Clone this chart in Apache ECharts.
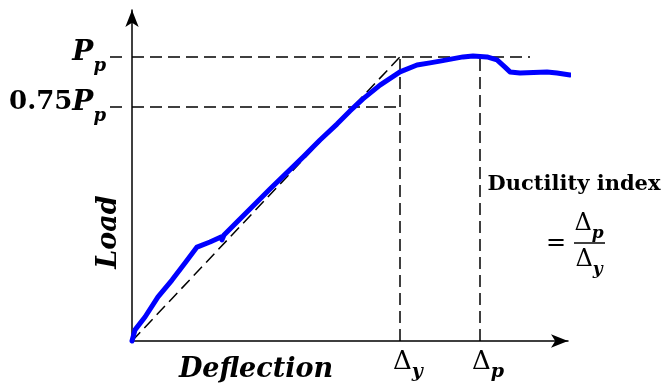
<!DOCTYPE html>
<html><head><meta charset="utf-8">
<script src="https://cdn.jsdelivr.net/npm/echarts@6/dist/echarts.min.js"></script>
<style>html,body{margin:0;padding:0;background:#fff}#c{width:665px;height:391px}</style>
</head><body><div id="c"></div>
<script>
// Load-deflection curve (arbitrary units)
const deflection = [0,0.75,3.25,6.5,10,13.25,16.25,19.5,22.25,22.5,23,25.75,30.25,34.5,42.75,47,51.25,54.5,57.75,62,67,71.25,74.5,77,82.75,85.25,88.75,91.25,93.25,94.5,97,103.75,106.25,109.5];
const load = [0,3.7,8,14.7,20.3,26,31.3,33,34.7,33.7,35.3,39,45,50.7,61.3,67,72.3,76.7,80.7,85.3,89.7,92,92.7,93.3,94.7,95,94.7,93.7,91.3,89.7,89.3,89.7,89.3,88.7];
// key points
const deltaY = 67, deltaP = 87;
const peakLoad = 94.7, yieldLoad = 78;
const peakGuideEnd = 99.5;
const xMax = 109, yMax = 110.33;
// tick labels
const yTickLabels = ['{n|0.75}{P|P}{s|p}', '{P|P}{s|p}'];
const xTickLabels = ['{d|Δ}{s|y}', '{d|Δ}{s|p}'];

const serif = '"DejaVu Serif", "Liberation Serif", serif';
const dash = {color:'#000', width:1.5, type:[12,6]};
function guide(points){
  return {type:'line', data:points, symbol:'none', silent:true, clip:false, lineStyle:dash, z:1, animation:false};
}
const chart = echarts.init(document.getElementById('c'), null, {renderer:'canvas'});
const axisLineStyle = {show:true, symbol:['none','arrow'], symbolSize:[10,17], lineStyle:{color:'#000', width:1.5}};
const fracRich = {
  d:{fontFamily:serif, fontSize:24, fill:'#000', lineHeight:24, verticalAlign:'top'},
  s:{fontFamily:serif, fontSize:17, fontWeight:'bold', fontStyle:'italic', fill:'#000', lineHeight:30, verticalAlign:'bottom'}
};
chart.setOption({
  animation:false,
  grid:{left:132, right:665-132-xMax*4, top:391-50-yMax*3, bottom:50, containLabel:false},
  xAxis:{type:'value', min:0, max:xMax, axisLine:axisLineStyle, axisTick:{show:false}, splitLine:{show:false},
    axisLabel:{customValues:[deltaY, deltaP], margin:8, padding:[0,0,0,16],
      formatter:v => v===deltaY ? xTickLabels[0] : xTickLabels[1],
      rich:{
        d:{fontFamily:serif, fontSize:26, color:'#000', lineHeight:26, verticalAlign:'top'},
        s:{fontFamily:serif, fontSize:19, fontWeight:'bold', fontStyle:'italic', color:'#000', lineHeight:33, verticalAlign:'bottom'}
      }}},
  yAxis:{type:'value', min:0, max:yMax, axisLine:axisLineStyle, splitLine:{show:false},
    axisTick:{show:true, customValues:[yieldLoad, peakLoad], length:22,
      lineStyle:{color:'#000', width:1.5, type:[12,10], dashOffset:12}},
    axisLabel:{customValues:[yieldLoad, peakLoad], margin:26,
      formatter:v => v===yieldLoad ? yTickLabels[0] : yTickLabels[1],
      rich:{
        n:{fontFamily:serif, fontSize:26, fontWeight:'bold', color:'#000', lineHeight:27, verticalAlign:'top'},
        P:{fontFamily:serif, fontSize:28, fontWeight:'bold', fontStyle:'italic', color:'#000', lineHeight:28, verticalAlign:'top'},
        s:{fontFamily:serif, fontSize:18, fontWeight:'bold', fontStyle:'italic', color:'#000', lineHeight:36, verticalAlign:'bottom'}
      }}},
  series:[
    guide([[0, peakLoad],[peakGuideEnd, peakLoad]]),
    guide([[0, yieldLoad],[deltaY, yieldLoad]]),
    guide([[deltaY, 0],[deltaY, peakLoad]]),
    guide([[deltaP, 0],[deltaP, peakLoad]]),
    guide([[0, 0],[deltaY, peakLoad]]),
    {type:'line', data:deflection.map((x,i)=>[x, load[i]]), symbol:'none', clip:false, z:5,
     lineStyle:{color:'#0000ff', width:5, join:'round', cap:'round'}}
  ],
  graphic:[
    {type:'text', x:109, y:232, rotation:Math.PI/2, style:{text:'Load', font:'italic bold 27px '+serif, fill:'#000', align:'center', verticalAlign:'middle'}},
    {type:'text', x:256, y:370, style:{text:'Deflection', font:'italic bold 27px '+serif, fill:'#000', align:'center', verticalAlign:'middle'}},
    {type:'text', x:574, y:185, style:{text:'Ductility index', font:'bold 21px '+serif, fill:'#000', align:'center', verticalAlign:'middle'}},
    {type:'text', x:556, y:244, style:{text:'=', font:'24px '+serif, fill:'#000', align:'center', verticalAlign:'middle'}},
    {type:'text', x:589, y:227, style:{text:'{d|Δ}{s|p}', align:'center', verticalAlign:'middle', rich:fracRich}},
    {type:'line', shape:{x1:574, y1:243, x2:605, y2:243}, style:{stroke:'#000', lineWidth:1.5}},
    {type:'text', x:589, y:263, style:{text:'{d|Δ}{s|y}', align:'center', verticalAlign:'middle', rich:fracRich}}
  ]
});
</script></body></html>
